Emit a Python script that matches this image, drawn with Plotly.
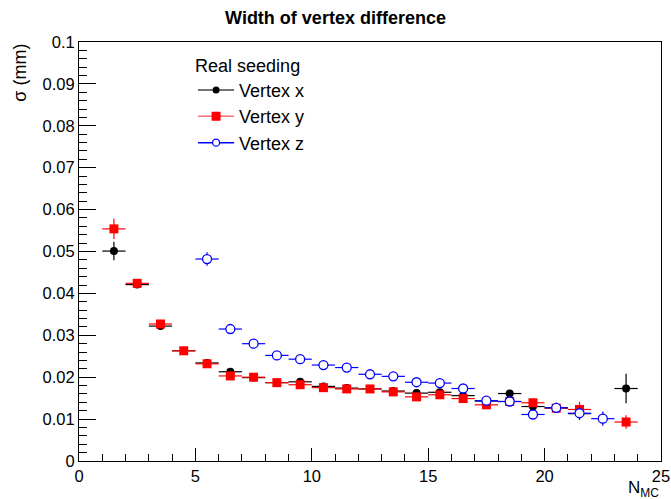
import plotly.graph_objects as go

n_mc_x = [1.5, 2.5, 3.5, 4.5, 5.5, 6.5, 7.5, 8.5, 9.5, 10.5, 11.5, 12.5, 13.5, 14.5, 15.5, 16.5, 17.5, 18.5, 19.5, 20.5, 21.5, 23.5]
sig_x = [0.0501, 0.0421, 0.0322, 0.0263, 0.0234, 0.0213, 0.0199, 0.0187, 0.0189, 0.0178, 0.0174, 0.0172, 0.0167, 0.0162, 0.0164, 0.0156, 0.0143, 0.0161, 0.0130, 0.0127, 0.0113, 0.0173]
err_x = [0.0022, 0.0006, 0.0005, 0.0004, 0.0004, 0.0004, 0.0004, 0.0004, 0.0004, 0.0004, 0.0004, 0.0004, 0.0004, 0.0004, 0.0004, 0.0005, 0.0005, 0.0008, 0.0009, 0.0010, 0.0012, 0.0035]

n_mc_y = [1.5, 2.5, 3.5, 4.5, 5.5, 6.5, 7.5, 8.5, 9.5, 10.5, 11.5, 12.5, 13.5, 14.5, 15.5, 16.5, 17.5, 18.5, 19.5, 20.5, 21.5, 23.5]
sig_y = [0.0554, 0.0424, 0.0327, 0.0263, 0.0232, 0.0203, 0.0200, 0.0187, 0.0182, 0.0175, 0.0172, 0.0172, 0.0165, 0.0153, 0.0158, 0.0149, 0.0134, 0.0142, 0.0139, 0.0126, 0.0123, 0.0093]
err_y = [0.0024, 0.0006, 0.0005, 0.0004, 0.0004, 0.0004, 0.0004, 0.0004, 0.0004, 0.0004, 0.0004, 0.0004, 0.0004, 0.0004, 0.0004, 0.0005, 0.0005, 0.0006, 0.0010, 0.0010, 0.0018, 0.0016]

n_mc_z = [5.5, 6.5, 7.5, 8.5, 9.5, 10.5, 11.5, 12.5, 13.5, 14.5, 15.5, 16.5, 17.5, 18.5, 19.5, 20.5, 21.5, 22.5]
sig_z = [0.0482, 0.0315, 0.0280, 0.0252, 0.0243, 0.0229, 0.0223, 0.0207, 0.0202, 0.0188, 0.0186, 0.0173, 0.0144, 0.0142, 0.0111, 0.0127, 0.0114, 0.0101]
err_z = [0.0016, 0.0005, 0.0005, 0.0005, 0.0005, 0.0005, 0.0005, 0.0005, 0.0005, 0.0005, 0.0005, 0.0006, 0.0007, 0.0008, 0.0010, 0.0012, 0.0016, 0.0017]

bin_half = 0.5
x_ticks = [0, 5, 10, 15, 20, 25]
y_ticks = [0, 0.01, 0.02, 0.03, 0.04, 0.05, 0.06, 0.07, 0.08, 0.09, 0.1]
y_ticktext = ["0", "0.01", "0.02", "0.03", "0.04", "0.05", "0.06", "0.07", "0.08", "0.09", "0.1"]

FONT = "Liberation Sans, Arial, Helvetica, sans-serif"

fig = go.Figure()

series = [
    ("Vertex x", n_mc_x, sig_x, err_x, "black", "#444444",
     dict(symbol="circle", size=8, color="black"), dict(symbol="circle", size=7, color="black")),
    ("Vertex y", n_mc_y, sig_y, err_y, "red", "#ff6e6e",
     dict(symbol="square", size=9, color="red"), dict(symbol="square", size=9, color="red")),
    ("Vertex z", n_mc_z, sig_z, err_z, "blue", "blue",
     dict(symbol="circle", size=9, color="white", line=dict(width=1.3, color="blue")),
     dict(symbol="circle", size=7, color="white", line=dict(width=1.3, color="blue"))),
]

for name, xs, ys, es, col, lcol, mk, lmk in series:
    fig.add_trace(go.Scatter(
        x=xs, y=ys, mode="markers", marker=mk, showlegend=False,
        error_x=dict(type="constant", value=bin_half, color=col, thickness=1.2, width=0),
        error_y=dict(type="data", array=es, color=col, thickness=1.2, width=0),
    ))
for name, xs, ys, es, col, lcol, mk, lmk in series:
    fig.add_trace(go.Scatter(
        x=[None], y=[None], mode="lines+markers", name=name,
        marker=lmk, line=dict(color=lcol, width=1.5),
        legendgroup=name, showlegend=True,
    ))

fig.update_layout(
    width=671, height=499,
    margin=dict(l=79, r=10, t=42, b=38, autoexpand=False),
    paper_bgcolor="white", plot_bgcolor="white",
    font=dict(family=FONT, size=16, color="black"),
    title=dict(text="<b>Width of vertex difference</b>", x=0.5, xanchor="center", y=0.965, yanchor="middle",
               font=dict(size=18, family=FONT, color="black")),
    showlegend=True,
    legend=dict(x=0.196, y=0.985, xanchor="left", yanchor="top", bgcolor="rgba(0,0,0,0)",
                title=dict(text="Real seeding", font=dict(size=18)),
                font=dict(size=18), tracegroupgap=0, itemwidth=36),
)

fig.update_xaxes(
    range=[0, 25], showline=True, linecolor="black", linewidth=1, mirror=True,
    showgrid=False, zeroline=False, automargin=False,
    ticks="inside", ticklen=13, tickcolor="black", tickwidth=1,
    tickvals=x_ticks, ticktext=[str(v) for v in x_ticks],
    minor=dict(ticks="inside", ticklen=7, dtick=1, tick0=0, tickcolor="black", showgrid=False),
    tickfont=dict(size=16.5),
)
fig.update_yaxes(
    range=[0, 0.1], showline=True, linecolor="black", linewidth=1, mirror=True,
    showgrid=False, zeroline=False, automargin=False,
    ticks="inside", ticklen=17, tickcolor="black", tickwidth=1,
    tickvals=y_ticks, ticktext=y_ticktext,
    minor=dict(ticks="inside", ticklen=8, dtick=0.002, tick0=0, tickcolor="black", showgrid=False),
    tickfont=dict(size=16.5),
)

fig.add_annotation(text="N<sub>MC</sub>", xref="paper", yref="paper", x=1.0, y=-0.066,
                   xanchor="right", yanchor="middle", showarrow=False, font=dict(size=17))
fig.add_annotation(text="σ (mm)", xref="paper", yref="paper", x=-0.102, y=1.0,
                   xanchor="center", yanchor="top", textangle=-90, showarrow=False, font=dict(size=18))

fig.write_html("out.html")
